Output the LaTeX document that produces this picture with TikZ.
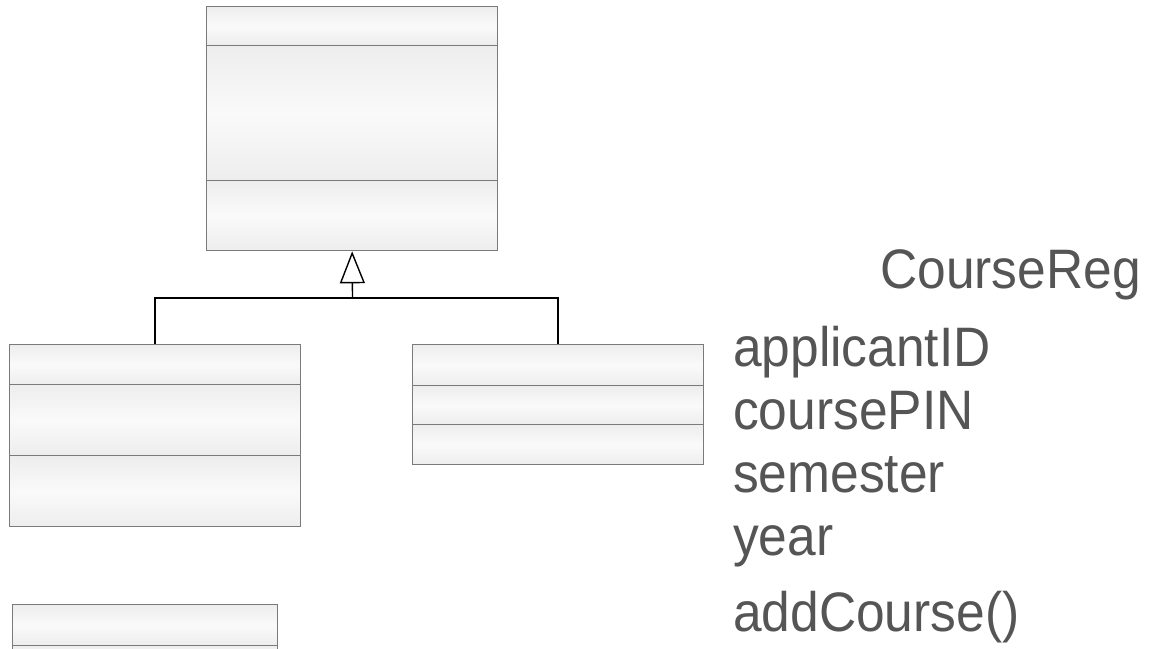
\documentclass[tikz,border=0pt]{standalone}
\usepackage{fontspec}
\setmainfont{Liberation Sans}
\usetikzlibrary{arrows.meta}
\definecolor{boxline}{HTML}{7A7A7A}
\definecolor{labeltext}{HTML}{555555}
\begin{document}
\begin{tikzpicture}[x=1pt,y=-1pt,
  compartment/.style={draw=boxline, line width=1.3pt, rectangle, inner sep=0pt,
    anchor=north west, top color=black!7, bottom color=black!7, middle color=black!2},
  link/.style={draw=black, line width=1.4pt},
  member/.style={anchor=base west, inner sep=0pt, text=labeltext,
    font=\fontsize{51.5}{60}\selectfont, yscale=1.08, transform shape}]
\clip (0,0) rectangle (1159,648);
\fill[white] (0,0) rectangle (1159,648);

% superclass
\node[compartment, minimum width=291pt, minimum height=39pt]  (supH) at (206,6)   {};
\node[compartment, minimum width=291pt, minimum height=135pt] (supA) at (206,45)  {};
\node[compartment, minimum width=291pt, minimum height=70pt]  (supB) at (206,180) {};

% left subclass
\node[compartment, minimum width=291pt, minimum height=40pt] (leftH) at (9,344) {};
\node[compartment, minimum width=291pt, minimum height=71pt] (leftA) at (9,384) {};
\node[compartment, minimum width=291pt, minimum height=71pt] (leftB) at (9,455) {};

% right subclass
\node[compartment, minimum width=291pt, minimum height=41pt] (rightH) at (412,344) {};
\node[compartment, minimum width=291pt, minimum height=39pt] (rightA) at (412,385) {};
\node[compartment, minimum width=291pt, minimum height=40pt] (rightB) at (412,424) {};

% lower class, running off the bottom edge
\node[compartment, minimum width=265pt, minimum height=41pt] (lowH) at (12,604) {};
\node[compartment, minimum width=265pt, minimum height=20pt] (lowA) at (12,645) {};

% generalization
\coordinate (join) at (352.5,298);
\draw[link] (leftH.north) |- (join);
\draw[link] (rightH.north) |- (join);
\draw[link, -{Triangle[open, length=32pt, width=25pt, fill=white]}] (join) -- (supB.south);

% class text
\node[member] (cname) at (880,288) {CourseReg};
\node[member] (attr1) at (733,366) {applicantID};
\node[member] (attr2) at (733,429) {coursePIN};
\node[member] (attr3) at (733,492) {semester};
\node[member] (attr4) at (733,555) {year};
\node[member] (oper1) at (733,631) {addCourse()};
\end{tikzpicture}
\end{document}
